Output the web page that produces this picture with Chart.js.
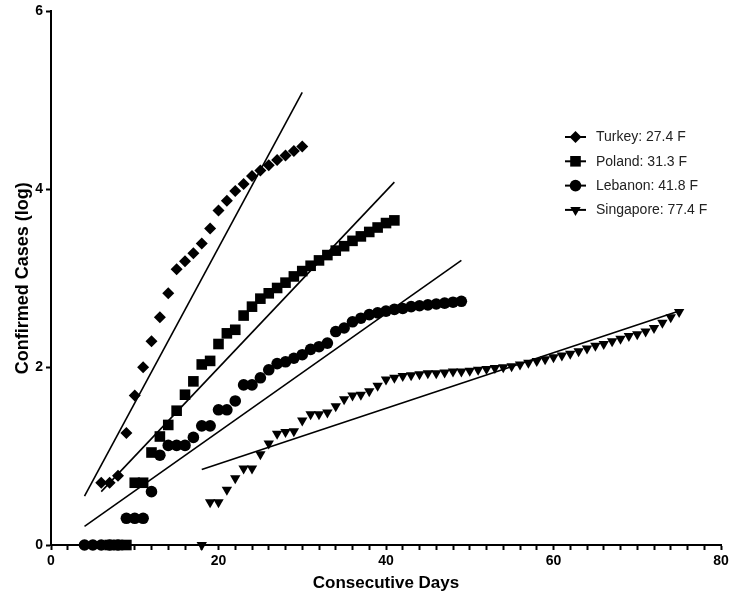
<!DOCTYPE html>
<html>
<head>
<meta charset="utf-8">
<script src="https://cdn.jsdelivr.net/npm/chart.js@4.4.1/dist/chart.umd.min.js"></script>
<style>
  html, body { margin: 0; padding: 0; background: #fff; }
  #wrap { width: 733px; height: 596px; }
</style>
</head>
<body>
<div id="wrap"><canvas id="chart" width="733" height="596"></canvas></div>
<script>
// Страны и средняя температура (легенда)
const countries = ['Turkey', 'Poland', 'Lebanon', 'Singapore'];
const temperatures = ['27.4', '31.3', '41.8', '77.4'];

// Турция: дни и log(подтверждённые случаи)
const turkeyDays = [6, 7, 8, 9, 10, 11, 12, 13, 14, 15, 16, 17, 18, 19, 20, 21, 22, 23, 24, 25, 26, 27, 28, 29, 30];
const turkeyValues = [0.70, 0.70, 0.78, 1.26, 1.68, 2.00, 2.29, 2.56, 2.83, 3.10, 3.19, 3.28, 3.39, 3.56, 3.76, 3.87, 3.98, 4.06, 4.15, 4.21, 4.27, 4.33, 4.38, 4.43, 4.48];

// Польша
const polandDays = [7, 8, 9, 10, 11, 12, 13, 14, 15, 16, 17, 18, 19, 20, 21, 22, 23, 24, 25, 26, 27, 28, 29, 30, 31, 32, 33, 34, 35, 36, 37, 38, 39, 40, 41];
const polandValues = [0, 0, 0, 0.70, 0.70, 1.04, 1.22, 1.35, 1.51, 1.69, 1.84, 2.03, 2.07, 2.26, 2.38, 2.42, 2.58, 2.68, 2.77, 2.83, 2.89, 2.95, 3.02, 3.08, 3.14, 3.20, 3.26, 3.31, 3.36, 3.42, 3.47, 3.52, 3.57, 3.62, 3.65];

// Ливан
const lebanonDays = [4, 5, 6, 7, 8, 9, 10, 11, 12, 13, 14, 15, 16, 17, 18, 19, 20, 21, 22, 23, 24, 25, 26, 27, 28, 29, 30, 31, 32, 33, 34, 35, 36, 37, 38, 39, 40, 41, 42, 43, 44, 45, 46, 47, 48, 49];
const lebanonValues = [0, 0, 0, 0, 0, 0.30, 0.30, 0.30, 0.60, 1.01, 1.12, 1.12, 1.12, 1.21, 1.34, 1.34, 1.52, 1.52, 1.62, 1.80, 1.80, 1.88, 1.97, 2.04, 2.06, 2.10, 2.14, 2.20, 2.23, 2.27, 2.40, 2.44, 2.51, 2.55, 2.59, 2.61, 2.63, 2.65, 2.66, 2.68, 2.69, 2.70, 2.71, 2.72, 2.73, 2.74];

// Сингапур
const singaporeDays = [18, 19, 20, 21, 22, 23, 24, 25, 26, 27, 28, 29, 30, 31, 32, 33, 34, 35, 36, 37, 38, 39, 40, 41, 42, 43, 44, 45, 46, 47, 48, 49, 50, 51, 52, 53, 54, 55, 56, 57, 58, 59, 60, 61, 62, 63, 64, 65, 66, 67, 68, 69, 70, 71, 72, 73, 74, 75];
const singaporeValues = [0, 0.48, 0.48, 0.62, 0.75, 0.86, 0.86, 1.02, 1.14, 1.25, 1.27, 1.28, 1.40, 1.47, 1.47, 1.49, 1.56, 1.64, 1.68, 1.69, 1.73, 1.79, 1.86, 1.88, 1.90, 1.91, 1.92, 1.93, 1.93, 1.94, 1.95, 1.95, 1.96, 1.97, 1.98, 1.99, 2.00, 2.01, 2.03, 2.05, 2.07, 2.09, 2.11, 2.13, 2.15, 2.18, 2.21, 2.24, 2.26, 2.29, 2.32, 2.35, 2.37, 2.40, 2.44, 2.50, 2.56, 2.62];

// Линии тренда: начало и конец (день, значение)
const turkeyFitDays = [4, 30];
const turkeyFitValues = [0.55, 5.09];
const polandFitDays = [6, 41];
const polandFitValues = [0.60, 4.08];
const lebanonFitDays = [4, 49];
const lebanonFitValues = [0.21, 3.20];
const singaporeFitDays = [18, 75];
const singaporeFitValues = [0.85, 2.63];

// Подписи осей
const xTickLabels = [0, 20, 40, 60, 80];
const yTickLabels = [0, 2, 4, 6];

// Маркеры для каждой страны
const markers = [
    { pointStyle: 'rectRot', radius: 6, rotation: 0 },
    { pointStyle: 'rect', radius: 7.5, rotation: 0 },
    { pointStyle: 'circle', radius: 5.8, rotation: 0 },
    { pointStyle: 'triangle', radius: 6, rotation: 180 }
];

const toPoints = (days, values) => days.map((d, i) => ({ x: d, y: values[i] }));

function pointSet(i, days, values) {
    return {
        label: countries[i],
        data: toPoints(days, values),
        showLine: false,
        pointStyle: markers[i].pointStyle,
        pointRadius: markers[i].radius,
        pointRotation: markers[i].rotation,
        pointBackgroundColor: '#000',
        pointBorderColor: '#000',
        pointBorderWidth: 0,
        clip: false
    };
}

function fitSet(days, values) {
    return {
        label: 'fit',
        data: toPoints(days, values),
        showLine: true,
        borderColor: '#000',
        borderWidth: 1.6,
        pointRadius: 0,
        fill: false,
        clip: false
    };
}

const axisFont = { family: '"Liberation Sans Narrow", "Liberation Sans", Arial, sans-serif', weight: 'bold' };

// Легенда справа, внутри области графика
const sideLegend = {
    id: 'sideLegend',
    afterDatasetsDraw(chart) {
        const ctx = chart.ctx;
        ctx.save();
        countries.forEach((name, i) => {
            const y = 137 + i * 24.3;
            ctx.strokeStyle = '#000';
            ctx.lineWidth = 2;
            ctx.beginPath();
            ctx.moveTo(565, y);
            ctx.lineTo(586, y);
            ctx.stroke();
            ctx.fillStyle = '#000';
            Chart.helpers.drawPoint(ctx, {
                pointStyle: markers[i].pointStyle,
                radius: markers[i].radius,
                rotation: markers[i].rotation,
                borderWidth: 0
            }, 575.5, y);
            ctx.fillStyle = '#222';
            ctx.font = '14px "Liberation Sans", Arial, sans-serif';
            ctx.textBaseline = 'middle';
            ctx.textAlign = 'left';
            ctx.fillText(name + ': ' + temperatures[i] + ' F', 596, y + 0.5);
        });
        ctx.restore();
    }
};

const ctx = document.getElementById('chart').getContext('2d');
const chart = new Chart(ctx, {
    type: 'scatter',
    data: {
        datasets: [
            pointSet(0, turkeyDays, turkeyValues),
            pointSet(1, polandDays, polandValues),
            pointSet(2, lebanonDays, lebanonValues),
            pointSet(3, singaporeDays, singaporeValues),
            fitSet(turkeyFitDays, turkeyFitValues),
            fitSet(polandFitDays, polandFitValues),
            fitSet(lebanonFitDays, lebanonFitValues),
            fitSet(singaporeFitDays, singaporeFitValues)
        ]
    },
    options: {
        responsive: false,
        animation: false,
        layout: { padding: { top: 8, right: 12, left: 0, bottom: 0 } },
        plugins: {
            legend: { display: false },
            tooltip: { enabled: false }
        },
        scales: {
            x: {
                type: 'linear',
                min: xTickLabels[0],
                max: xTickLabels[xTickLabels.length - 1],
                afterFit: (s) => { s.height = 51; },
                border: { color: '#000', width: 2 },
                grid: { drawOnChartArea: false, drawTicks: true, tickLength: 5, tickWidth: 2, tickColor: '#000' },
                ticks: {
                    stepSize: 2,
                    autoSkip: false,
                    maxRotation: 0,
                    padding: 3,
                    color: '#000',
                    font: { ...axisFont, size: 14 },
                    callback: (v) => xTickLabels.includes(v) ? String(v) : ''
                },
                title: {
                    display: true,
                    text: 'Consecutive Days',
                    color: '#000',
                    font: { ...axisFont, size: 17 },
                    padding: { top: 0, bottom: 2 }
                }
            },
            y: {
                type: 'linear',
                min: yTickLabels[0],
                max: yTickLabels[yTickLabels.length - 1],
                afterFit: (s) => { s.width = 51; },
                border: { color: '#000', width: 2 },
                grid: { drawOnChartArea: false, drawTicks: true, tickLength: 5, tickWidth: 2, tickColor: '#000' },
                ticks: {
                    stepSize: 2,
                    padding: 3,
                    color: '#000',
                    font: { ...axisFont, size: 14 },
                    callback: (v) => yTickLabels.includes(v) ? String(v) : ''
                },
                title: {
                    display: true,
                    text: 'Confirmed Cases (log)',
                    color: '#000',
                    font: { ...axisFont, size: 18 },
                    padding: { top: 12, bottom: 0 }
                }
            }
        }
    },
    plugins: [sideLegend]
});
</script>
</body>
</html>
